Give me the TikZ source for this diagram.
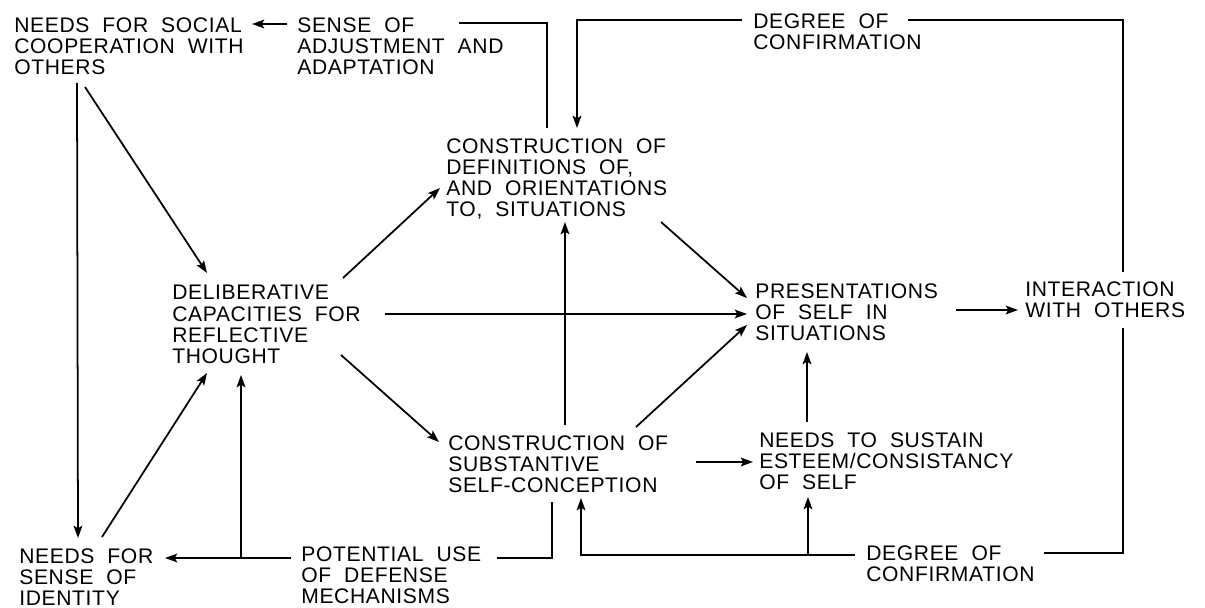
\documentclass[tikz,border=0pt]{standalone}
\usepackage{fontspec}
\setmainfont{Liberation Sans}[LetterSpace=3,WordSpace={2}]
\usetikzlibrary{arrows.meta,calc}

\begin{document}
\begin{tikzpicture}[x=0.02cm,y=-0.02cm,
  lbl/.style={anchor=north west,inner sep=0pt,align=left,font=\fontsize{12}{12.1}\selectfont},
  link/.style={line width=1pt},
  arr/.style={link,-{Stealth[length=7pt,width=5pt,inset=1.5pt]}}]
\useasboundingbox (0,0) rectangle (1205,608);
%
\node[lbl] (social) at (14,17) {NEEDS FOR SOCIAL\\COOPERATION WITH\\OTHERS};
\node[lbl] (adjust) at (297,17) {SENSE OF\\ADJUSTMENT AND\\ADAPTATION};
\node[lbl] (degtop) at (753,13) {DEGREE OF\\CONFIRMATION};
\node[lbl] (defs) at (446,138) {CONSTRUCTION OF\\DEFINITIONS OF,\\AND ORIENTATIONS\\TO, SITUATIONS};
\node[lbl] (delib) at (172,285) {DELIBERATIVE\\CAPACITIES FOR\\REFLECTIVE\\THOUGHT};
\node[lbl] (pres) at (755,283) {PRESENTATIONS\\OF SELF IN\\SITUATIONS};
\node[lbl] (inter) at (1025,281) {INTERACTION\\WITH OTHERS};
\node[lbl] (self) at (448,435) {CONSTRUCTION OF\\SUBSTANTIVE\\SELF-CONCEPTION};
\node[lbl] (sustain) at (759,432) {NEEDS TO SUSTAIN\\ESTEEM/CONSISTANCY\\OF SELF};
\node[lbl] (identity) at (19,548) {NEEDS FOR\\SENSE OF\\IDENTITY};
\node[lbl] (defense) at (301,546) {POTENTIAL USE\\OF DEFENSE\\MECHANISMS};
\node[lbl] (degbot) at (866,545) {DEGREE OF\\CONFIRMATION};
%
\draw[arr] ($(adjust.north west)+(-10,7)$) -- ($(social.north east)+(8,7)$);
\draw[link] ($(defs.north west)+(101,-10)$) |- ($(adjust.north west)+(162,6)$);
\draw[link] ($(inter.north west)+(98,-9)$) |- ($(degtop.north west)+(155,7)$);
\draw[arr] ($(degtop.north west)+(-11,7)$) -| ($(defs.north west)+(131,-10)$);
%
\draw[arr] ($(social.north west)+(63,66)$) -- ($(identity.north west)+(59,-10)$);
\draw[arr] ($(social.north west)+(71,70)$) -- ($(delib.north west)+(35,-12)$);
\draw[arr] ($(identity.north west)+(83,-11)$) -- ($(delib.north west)+(35,88)$);
%
\draw[arr] ($(delib.north west)+(171,-7)$) -- ($(defs.north west)+(-6,50)$);
\draw[arr] ($(delib.north west)+(213,29)$) -- ($(pres.north west)+(-8,31)$);
\draw[arr] ($(delib.north west)+(169,70)$) -- ($(self.north west)+(-9,7)$);
%
\draw[arr] ($(defs.north west)+(215,84)$) -- ($(pres.north west)+(-8,15)$);
\draw[arr] ($(self.north west)+(188,-8)$) -- ($(pres.north west)+(-8,42)$);
\draw[arr] ($(self.north west)+(117,-10)$) -- ($(defs.north west)+(119,84)$);
\draw[arr] ($(self.north west)+(248,27)$) -- ($(sustain.north west)+(-6,30)$);
\draw[arr] ($(sustain.north west)+(48,-10)$) -- ($(pres.north west)+(52,69)$);
\draw[arr] ($(pres.north west)+(201,27)$) -- ($(inter.north west)+(-7,29)$);
%
\draw[link] ($(inter.north west)+(98,47)$) |- ($(degbot.north west)+(178,8)$);
\draw[arr] ($(degbot.north west)+(-11,10)$) -| ($(self.north west)+(133,63)$);
\draw[arr] ($(sustain.north west)+(49,123)$) -- ($(sustain.north west)+(49,65)$);
%
\draw[link] ($(self.north west)+(104,67)$) |- ($(defense.north east)+(15,12)$);
\draw[arr] ($(defense.north west)+(-10,12)$) -- ($(identity.north west)+(146,10)$);
\draw[arr] ($(delib.north west)+(69,273)$) -- ($(delib.north west)+(69,90)$);
\end{tikzpicture}
\end{document}
